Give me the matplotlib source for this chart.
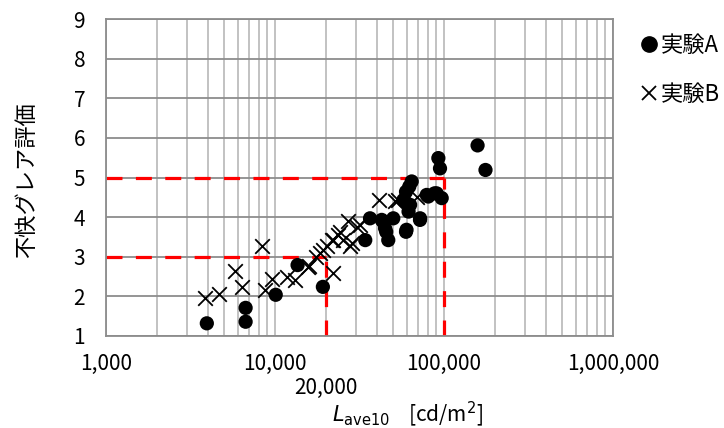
import numpy as np
import matplotlib
matplotlib.use('Agg')
import matplotlib.pyplot as plt
from matplotlib.ticker import FixedLocator, LogLocator, NullFormatter
from matplotlib.lines import Line2D

plt.rcParams['font.family'] = ['Noto Sans CJK JP', 'DejaVu Sans']

# 実験A (circles): L_ave10 [cd/m2], discomfort glare rating
exp_a_x = [3950, 6700, 6700, 10100, 13600, 19200, 34200, 36500, 42800, 43500,
           44800, 45500, 46800, 50100, 57500, 58800, 59600, 59600, 60000, 61700,
           62300, 63000, 64400, 72100, 72200, 79000, 80700, 88000, 90500, 92600,
           94700, 96900, 158000, 176000]
exp_a_y = [1.32, 1.71, 1.36, 2.04, 2.79, 2.24, 3.42, 3.97, 3.93, 3.89,
           3.72, 3.63, 3.42, 3.97, 4.43, 4.39, 4.64, 3.63, 3.68, 4.14,
           4.77, 4.31, 4.90, 3.93, 3.97, 4.56, 4.52, 4.60, 4.60, 5.49,
           5.23, 4.48, 5.81, 5.19]

# 実験B (crosses)
exp_b_x = [3850, 4680, 5800, 6400, 8340, 8730, 9550, 11800, 13100, 15700,
           15900, 17500, 18500, 19300, 20200, 21600, 22100, 22100, 23700, 24200,
           25300, 27100, 27800, 28500, 30400, 31800, 41000, 51300, 53700, 69300]
exp_b_y = [1.97, 2.06, 2.65, 2.23, 3.27, 2.16, 2.43, 2.48, 2.41, 2.75,
           2.77, 2.99, 3.09, 3.17, 3.26, 3.42, 2.59, 3.42, 3.55, 3.63,
           3.42, 3.89, 3.26, 3.34, 3.74, 3.80, 4.42, 4.41, 4.43, 4.50]

# reference guides (x value, rating)
guide_x = [20000, 100000]
guide_y = [3, 5]

x_ticks = [1000, 10000, 100000, 1000000]
x_tick_labels = ['1,000', '10,000', '100,000', '1,000,000']

fig = plt.figure(figsize=(7.24, 4.28), dpi=100)
ax = fig.add_axes([106 / 724, 1 - 336 / 428, 507 / 724, 317 / 428])

ax.set_xscale('log')
ax.set_xlim(1000, 1000000)
ax.set_ylim(1, 9)

ax.xaxis.set_major_locator(FixedLocator(x_ticks))
ax.set_xticklabels(x_tick_labels)
ax.xaxis.set_minor_locator(LogLocator(base=10, subs=np.arange(2, 10)))
ax.xaxis.set_minor_formatter(NullFormatter())
ax.set_yticks(range(1, 10))

ax.grid(True, axis='x', which='both', color='#bdbdbd', lw=1.3, zorder=0)
ax.grid(True, axis='y', which='major', color='#8c8c8c', lw=1.3, zorder=0)
ax.set_axisbelow(True)
for s in ax.spines.values():
    s.set_color('#8c8c8c')
    s.set_linewidth(1.3)

ax.tick_params(axis='both', which='both', length=0, labelsize=15)
ax.tick_params(axis='x', pad=12)
ax.tick_params(axis='y', pad=15)

# red dashed guides
for gx, gy in zip(guide_x, guide_y):
    ax.plot([1000, gx], [gy, gy], color='red', lw=2.3, dashes=(5, 4.2), zorder=2)
    ax.plot([gx, gx], [1, gy], color='red', lw=2.3, dashes=(5, 4.2), zorder=2)

ax.scatter(exp_b_x, exp_b_y, marker='x', s=110, color='black', linewidths=1.3, zorder=3)
ax.scatter(exp_a_x, exp_a_y, marker='o', s=105, color='black', edgecolors='none', zorder=4)

# extra label under the 20,000 guide
ax.text(20000, -(388 - 336) / 317, '20,000', transform=ax.get_xaxis_transform(),
        ha='center', va='center', fontsize=15)

ax.set_xlabel(r'$\mathit{L}_{\mathrm{ave10}}$    [cd/m$^2$]', fontsize=15, va='center')
ax.xaxis.set_label_coords((408 - 106) / 507, -(414 - 336) / 317)
ax.set_ylabel('不快グレア評価', fontsize=16, va='center')
ax.yaxis.set_label_coords((26 - 106) / 507, (336 - 180) / 317)

handles = [Line2D([], [], ls='none', marker='o', color='black', markersize=11),
           Line2D([], [], ls='none', marker='x', color='black', markersize=10, mew=1.3)]
fig.legend(handles, ['実験A', '実験B'], loc='upper left',
           bbox_to_anchor=(640 / 724, 1 - 34 / 428), frameon=False,
           borderaxespad=0, borderpad=0,
           fontsize=16, handlelength=0.8, handletextpad=0.15, labelspacing=1.15)

fig.savefig('out.png', dpi=100)
